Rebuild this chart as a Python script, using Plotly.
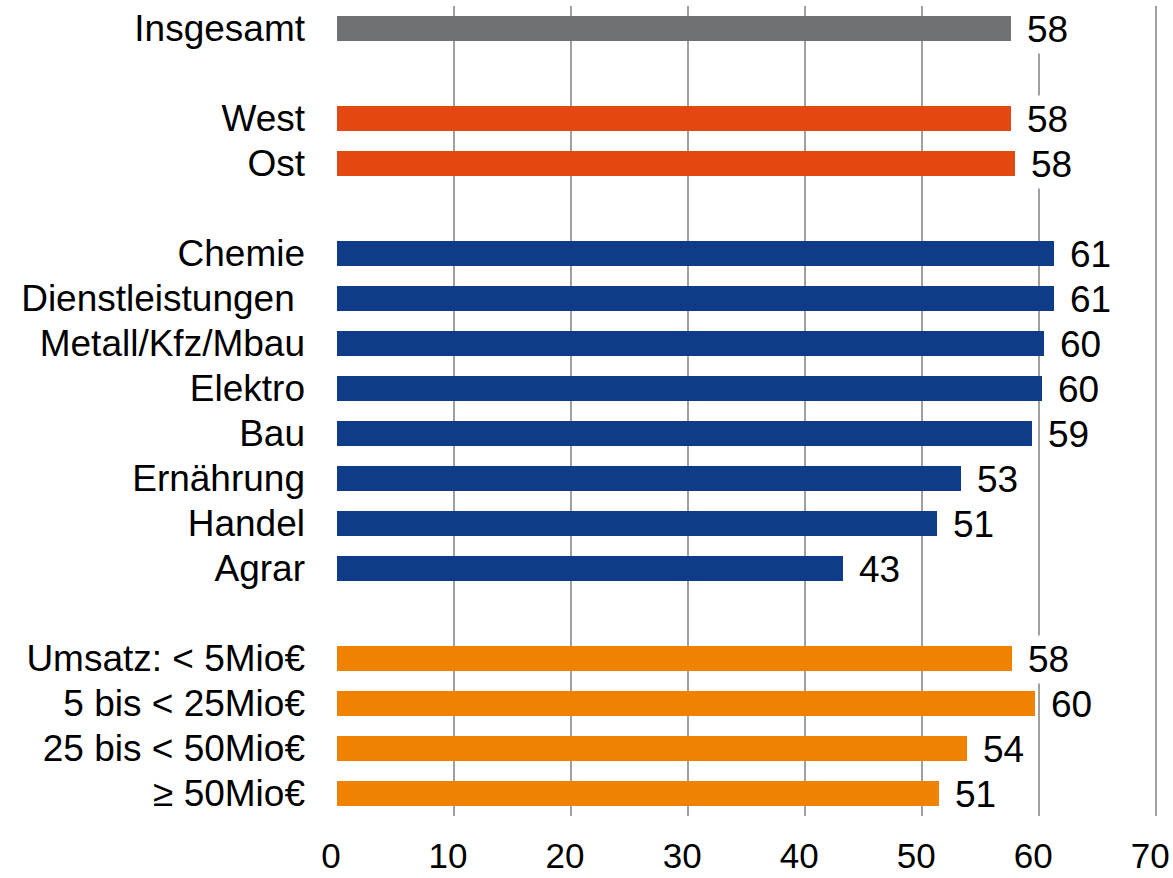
import plotly.graph_objects as go

# Shares per group (percent)
labels_total = ["Insgesamt"]
values_total = [57.6]

labels_region = ["West", "Ost"]
values_region = [57.6, 57.9]

labels_branch = ["Chemie", "Dienstleistungen\u00a0", "Metall/Kfz/Mbau", "Elektro",
                 "Bau", "Ernährung", "Handel", "Agrar"]
values_branch = [61.3, 61.3, 60.4, 60.2, 59.4, 53.3, 51.3, 43.2]

labels_size = ["Umsatz: < 5Mio€", "5 bis < 25Mio€", "25 bis < 50Mio€", "≥ 50Mio€"]
values_size = [57.7, 59.6, 53.8, 51.4]

x_ticks = [0, 10, 20, 30, 40, 50, 60, 70]

groups = [
    (labels_total, values_total, "#707173"),
    (labels_region, values_region, "#E34812"),
    (labels_branch, values_branch, "#0F3C89"),
    (labels_size, values_size, "#EF8200"),
]

FONT = "Liberation Sans, Arial, sans-serif"
FS = 37
fig = go.Figure()
tickvals, ticktext, annotations = [], [], []
row = 0
last_row = 0
for labels, values, color in groups:
    rows = list(range(row, row + len(labels)))
    fig.add_trace(go.Bar(
        y=rows, x=values, orientation="h", width=0.56,
        marker=dict(color=color, line=dict(width=0)),
        hoverinfo="skip", showlegend=False,
    ))
    for r, lab, v in zip(rows, labels, values):
        tickvals.append(r)
        ticktext.append(lab)
        annotations.append(dict(
            x=v, y=r, xref="x", yref="y", text=f"{v:.0f}",
            showarrow=False, xanchor="left", yanchor="middle",
            xshift=12, yshift=-1, bgcolor="white", borderpad=3,
            font=dict(family=FONT, size=FS, color="black"),
        ))
    last_row = rows[-1]
    row += len(labels) + 1  # blank row between groups

fig.update_layout(
    width=1173, height=878,
    margin=dict(l=337, r=5, t=6, b=62),
    paper_bgcolor="white", plot_bgcolor="white",
    font=dict(family=FONT, size=FS, color="black"),
    annotations=annotations,
    bargap=0,
)
fig.update_xaxes(
    range=[0, 71], tickvals=x_ticks, showgrid=True,
    gridcolor="#A0A0A0", gridwidth=2, zeroline=False, showline=False,
    ticks="", tickfont=dict(size=35), ticklabelstandoff=16,
    ticklabelshift=-6, ticklabeloverflow="allow", automargin=False,
)
fig.update_yaxes(
    range=[last_row + 0.5, -0.5], tickvals=tickvals, ticktext=ticktext,
    showgrid=False, zeroline=False, showline=False, ticks="",
    tickfont=dict(size=FS), ticklabelstandoff=31, automargin=False,
)

fig.write_html("out.html")
